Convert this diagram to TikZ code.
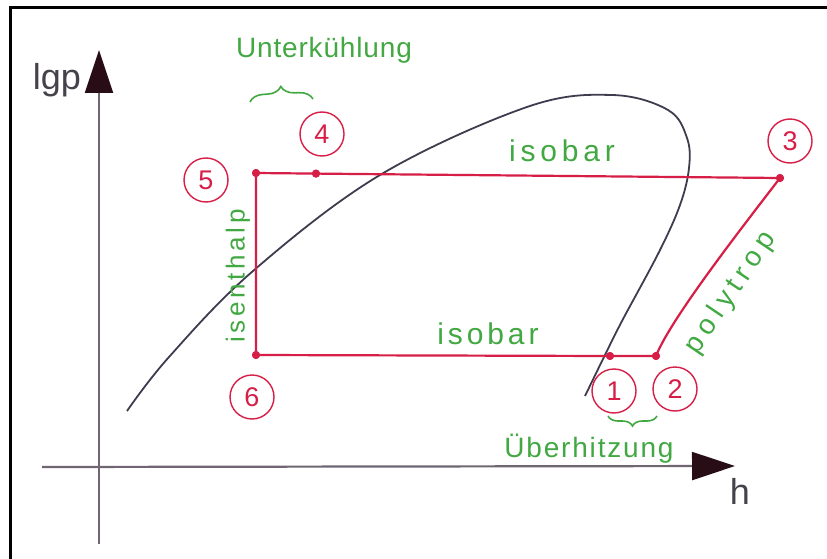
\documentclass[tikz,border=0pt]{standalone}
\usepackage{fontspec}
\setmainfont{Liberation Sans}
\usetikzlibrary{arrows.meta,decorations.pathreplacing}
\definecolor{cred}{RGB}{214,30,70}
\definecolor{cgreen}{RGB}{66,168,66}
\definecolor{cdome}{RGB}{62,60,78}
\definecolor{caxis}{RGB}{112,102,114}
\definecolor{carrow}{RGB}{40,12,22}
\definecolor{ctext}{RGB}{70,66,76}
\begin{document}
\begin{tikzpicture}[x=1pt,y=-1pt,
  frameline/.style={line width=3pt, draw=black},
  axisline/.style={draw=caxis, line width=2.2pt, -{Triangle[length=43pt,width=28pt,color=carrow]}},
  domeline/.style={draw=cdome, line width=1.8pt},
  cycline/.style={draw=cred, line width=2.2pt},
  statedot/.style={circle, fill=cred, inner sep=0pt, minimum size=8pt},
  numcircle/.style={circle, draw=cred, line width=1.4pt, text=cred, minimum size=44pt, inner sep=0pt, font=\fontsize{27}{27}\selectfont},
  glab/.style={text=cgreen, inner sep=0pt},
  axlab/.style={text=ctext, inner sep=0pt, font=\fontsize{36}{36}\selectfont},
  gbrace/.style={draw=cgreen, line width=1.6pt, decorate}
]
\useasboundingbox (0,0) rectangle (827,559);
\fill[white] (0,0) rectangle (827,559);

% frame
\coordinate (fb) at (10.5,559);
\coordinate (fc) at (10.5,7.5);
\coordinate (fr) at (827,7.5);
\draw[frameline] (fb) -- (fc) -- (fr);

% axes
\coordinate (yb) at (99,544);
\coordinate (yt) at (99,50);
\coordinate (xl) at (42,467);
\coordinate (xr) at (735,466);
\draw[axisline] (yb) -- (yt);
\draw[axisline] (xl) -- (xr);
\node[axlab] (lgp) at (57,80) {lgp};
\node[axlab] (hlab) at (740,491) {h};

% saturation dome
\draw[domeline] plot[smooth, tension=0.6] coordinates {(127,411) (169,357) (253,271) (380,175) (527,107) (612,95) (668,110) (687,138) (689,168) (680,205) (659,252) (622,321) (604,357) (585,396)};

% states
\node[statedot] (p5) at (256,173) {};
\node[statedot] (p4) at (316,173.6) {};
\node[statedot] (p3) at (780,178) {};
\node[statedot] (p6) at (256,355) {};
\node[statedot] (p1) at (610,356) {};
\node[statedot] (p2) at (656,356) {};

% cycle
\draw[cycline] (p5.center) -- (p4.center) -- (p3.center);
\draw[cycline] (p3.center) .. controls (740,230) and (670,320) .. (p2.center);
\draw[cycline] (p2.center) -- (p1.center) -- (p6.center) -- (p5.center);
\foreach \p in {p1,p2,p3,p4,p5,p6} \fill[cred] (\p) circle (4pt);

% numbers
\node[numcircle] (n1) at (614,391) {1};
\node[numcircle] (n2) at (675,389) {2};
\node[numcircle] (n3) at (790,141) {3};
\node[numcircle] (n4) at (322,134) {4};
\node[numcircle] (n5) at (206,180) {5};
\node[numcircle] (n6) at (252,397) {6};

% braces
\coordinate (ba) at (250,102);
\coordinate (bb) at (313,99);
\draw[gbrace, decoration={brace, amplitude=14pt}] (ba) -- (bb);
\coordinate (bc) at (608,416);
\coordinate (bd) at (657,416);
\draw[gbrace, decoration={brace, amplitude=10pt, mirror}] (bc) -- (bd);

% green labels
\node[glab, font=\fontsize{28}{28}\selectfont\addfontfeature{LetterSpace=3}] (tunter) at (324,50) {Unterkühlung};
\node[glab, font=\fontsize{28}{28}\selectfont\addfontfeature{LetterSpace=6.5}] (tueber) at (589,449) {Überhitzung};
\node[glab, font=\fontsize{30}{30}\selectfont\addfontfeature{LetterSpace=16}] (tiso1) at (562,151) {isobar};
\node[glab, font=\fontsize{30}{30}\selectfont\addfontfeature{LetterSpace=13}] (tiso2) at (488,334) {isobar};
\node[glab, rotate=90, font=\fontsize{26}{26}\selectfont\addfontfeature{LetterSpace=14}] (tisen) at (238,276) {isenthalp};
\node[glab, rotate=56, font=\fontsize{28}{28}\selectfont\addfontfeature{LetterSpace=21}] (tpoly) at (731,293) {polytrop};
\end{tikzpicture}
\end{document}
